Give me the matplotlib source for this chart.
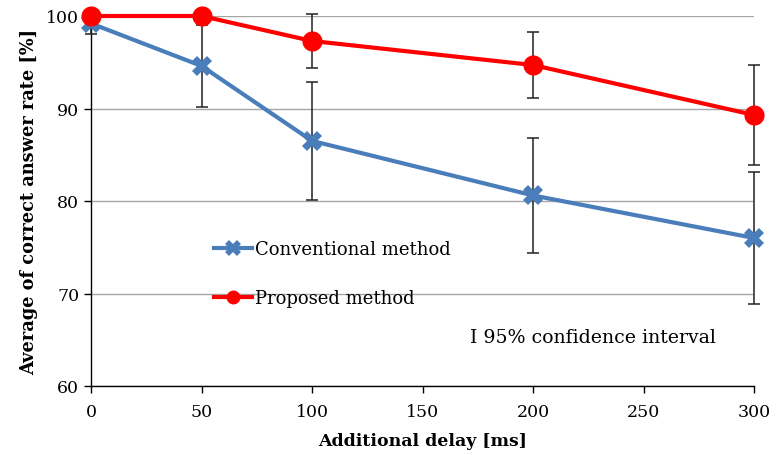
import matplotlib
matplotlib.use("Agg")
import matplotlib.pyplot as plt
from matplotlib.lines import Line2D
from matplotlib.transforms import IdentityTransform

plt.rcParams['font.family'] = ['DejaVu Serif']

delays = [0, 50, 100, 200, 300]
conventional = [99.2, 94.6, 86.5, 80.6, 76.0]
conventional_ci = [1.1, 4.4, 6.35, 6.2, 7.1]
proposed = [100.0, 100.0, 97.3, 94.7, 89.3]
proposed_ci = [0.0, 0.0, 2.9, 3.6, 5.4]

x_ticks = [0, 50, 100, 150, 200, 250, 300]
y_ticks = [60, 70, 80, 90, 100]

blue = '#4A7EBB'
red = '#FF0000'

fig = plt.figure(figsize=(7.77, 4.56), dpi=100)
ax = fig.add_axes([91/777, 1-387/456, (754-91)/777, (387-17)/456])

ax.set_xlim(0, 300)
ax.set_ylim(60, 100)
ax.set_xticks(x_ticks)
ax.set_yticks(y_ticks)
ax.yaxis.grid(True, color='#A6A6A6', linewidth=1.0)
ax.set_axisbelow(True)
for s in ['top', 'right']:
    ax.spines[s].set_visible(False)
for s in ['left', 'bottom']:
    ax.spines[s].set_color('black')
    ax.spines[s].set_linewidth(1.0)
ax.tick_params(axis='both', direction='out', length=5, width=1, labelsize=12.5, colors='black')
ax.tick_params(axis='x', pad=7)

# error bars
ax.errorbar(delays, conventional, yerr=conventional_ci, fmt='none', ecolor='#222222',
            elinewidth=1.1, capsize=4, capthick=1.1, zorder=3, clip_on=False)
ax.errorbar(delays, proposed, yerr=proposed_ci, fmt='none', ecolor='#222222',
            elinewidth=1.1, capsize=4, capthick=1.1, zorder=3, clip_on=False)

ax.plot(delays, conventional, color=blue, linewidth=3.0, marker='X', markersize=14,
        markeredgewidth=0, zorder=4, clip_on=False)
ax.plot(delays, proposed, color=red, linewidth=3.0, marker='o', markersize=14.5,
        markeredgewidth=0, zorder=5, clip_on=False)

handles = [Line2D([], [], color=blue, linewidth=3.0, marker='X', markersize=11, markeredgewidth=0),
           Line2D([], [], color=red, linewidth=3.0, marker='o', markersize=10, markeredgewidth=0)]
leg = ax.legend(handles, ['Conventional method', 'Proposed method'], loc='upper left',
                bbox_to_anchor=((207-91)/663, (387-234)/370), frameon=False, fontsize=13,
                handlelength=2.1, handletextpad=0.15, labelspacing=1.7, borderaxespad=0)

ax.text(470, 456-338, 'I 95% confidence interval', transform=IdentityTransform(),
        fontsize=13.6, va='center', ha='left')

ax.set_xlabel('Additional delay [ms]', fontsize=12.5, fontweight='bold', labelpad=9)
ax.set_ylabel('Average of correct answer rate [%]', fontsize=12.8, fontweight='bold', labelpad=6)

fig.savefig('out.png', dpi=100)
